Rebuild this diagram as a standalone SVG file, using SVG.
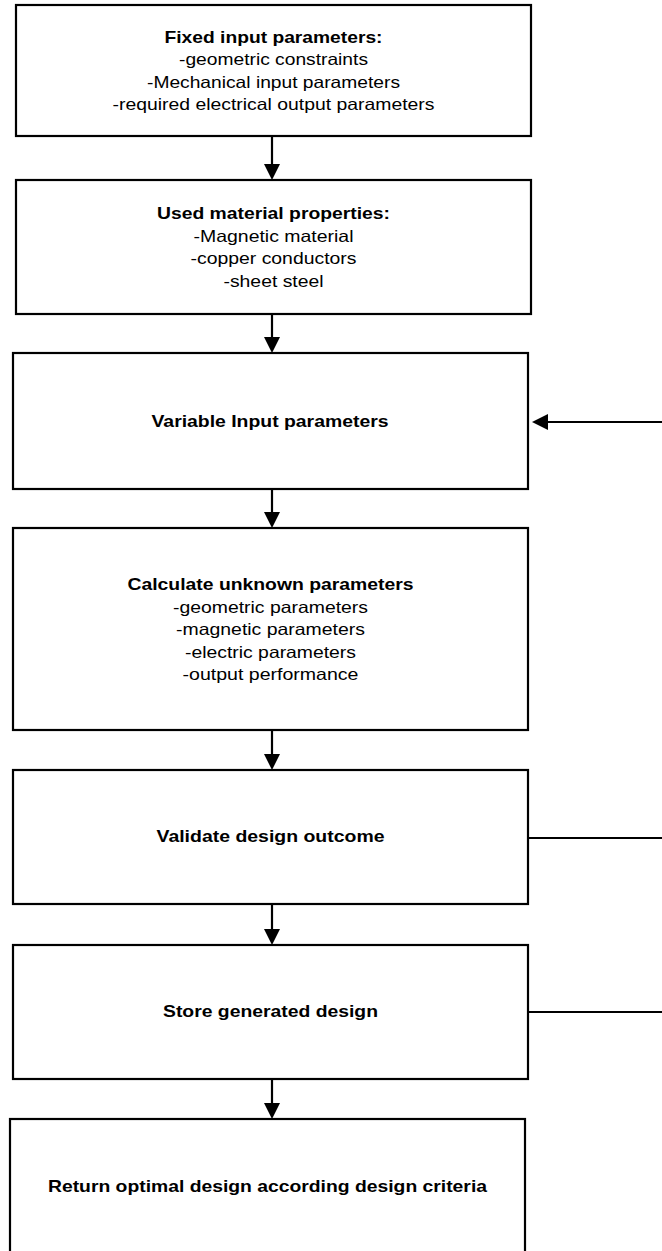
<svg xmlns="http://www.w3.org/2000/svg" width="662" height="1251" viewBox="0 0 662 1251">
<style>
.box{fill:#fff;stroke:#000;stroke-width:2.2}
.ln{stroke:#000;stroke-width:2.2;fill:none}
.hd{fill:#000}
text{font-family:"Liberation Sans",Arial,sans-serif;font-size:16.5px;fill:#000;text-anchor:middle}
.b{font-weight:bold}
</style>
<rect width="662" height="1251" fill="#fff"/>
<g id="n1">
<rect class="box" x="16" y="5" width="515" height="131"/>
<text class="b" x="273.5" y="43" textLength="218" lengthAdjust="spacingAndGlyphs">Fixed input parameters:</text>
<text x="273.5" y="65.3" textLength="189" lengthAdjust="spacingAndGlyphs">-geometric constraints</text>
<text x="273.5" y="87.6" textLength="253" lengthAdjust="spacingAndGlyphs">-Mechanical input parameters</text>
<text x="273.5" y="110" textLength="322" lengthAdjust="spacingAndGlyphs">-required electrical output parameters</text>
</g>
<g id="n2">
<rect class="box" x="16" y="180" width="515" height="134"/>
<text class="b" x="273.5" y="219.3" textLength="233" lengthAdjust="spacingAndGlyphs">Used material properties:</text>
<text x="273.5" y="241.6" textLength="160" lengthAdjust="spacingAndGlyphs">-Magnetic material</text>
<text x="273.5" y="264" textLength="166" lengthAdjust="spacingAndGlyphs">-copper conductors</text>
<text x="273.5" y="286.5" textLength="100" lengthAdjust="spacingAndGlyphs">-sheet steel</text>
</g>
<g id="n3">
<rect class="box" x="13" y="353" width="515" height="136"/>
<text class="b" x="270" y="426.7" textLength="237" lengthAdjust="spacingAndGlyphs">Variable Input parameters</text>
</g>
<g id="n4">
<rect class="box" x="13" y="528" width="515" height="202"/>
<text class="b" x="270.5" y="590" textLength="286" lengthAdjust="spacingAndGlyphs">Calculate unknown parameters</text>
<text x="270.5" y="612.5" textLength="195" lengthAdjust="spacingAndGlyphs">-geometric parameters</text>
<text x="270.5" y="635" textLength="189" lengthAdjust="spacingAndGlyphs">-magnetic parameters</text>
<text x="270.5" y="657.5" textLength="171" lengthAdjust="spacingAndGlyphs">-electric parameters</text>
<text x="270.5" y="680" textLength="176" lengthAdjust="spacingAndGlyphs">-output performance</text>
</g>
<g id="n5">
<rect class="box" x="13" y="770" width="515" height="134"/>
<text class="b" x="270.5" y="841.7" textLength="228" lengthAdjust="spacingAndGlyphs">Validate design outcome</text>
</g>
<g id="n6">
<rect class="box" x="13" y="945" width="515" height="134"/>
<text class="b" x="270.5" y="1016.7" textLength="215" lengthAdjust="spacingAndGlyphs">Store generated design</text>
</g>
<g id="n7">
<rect class="box" x="10" y="1119" width="515" height="150"/>
<text class="b" x="267.5" y="1191.7" textLength="439" lengthAdjust="spacingAndGlyphs">Return optimal design according design criteria</text>
</g>
<g id="connectors">
<line class="ln" x1="272" y1="136" x2="272" y2="166"/>
<polygon class="hd" points="264,164 280,164 272,180"/>
<line class="ln" x1="272" y1="314" x2="272" y2="339"/>
<polygon class="hd" points="264,337 280,337 272,353"/>
<line class="ln" x1="272" y1="489" x2="272" y2="514"/>
<polygon class="hd" points="264,512 280,512 272,528"/>
<line class="ln" x1="272" y1="730" x2="272" y2="756"/>
<polygon class="hd" points="264,754 280,754 272,770"/>
<line class="ln" x1="272" y1="904" x2="272" y2="931"/>
<polygon class="hd" points="264,929 280,929 272,945"/>
<line class="ln" x1="272" y1="1079" x2="272" y2="1105"/>
<polygon class="hd" points="264,1103 280,1103 272,1119"/>
<line class="ln" x1="662" y1="422" x2="546" y2="422"/>
<polygon class="hd" points="548,414 548,430 532,422"/>
<line class="ln" x1="528" y1="838" x2="662" y2="838"/>
<line class="ln" x1="528" y1="1012" x2="662" y2="1012"/>
</g>
</svg>
